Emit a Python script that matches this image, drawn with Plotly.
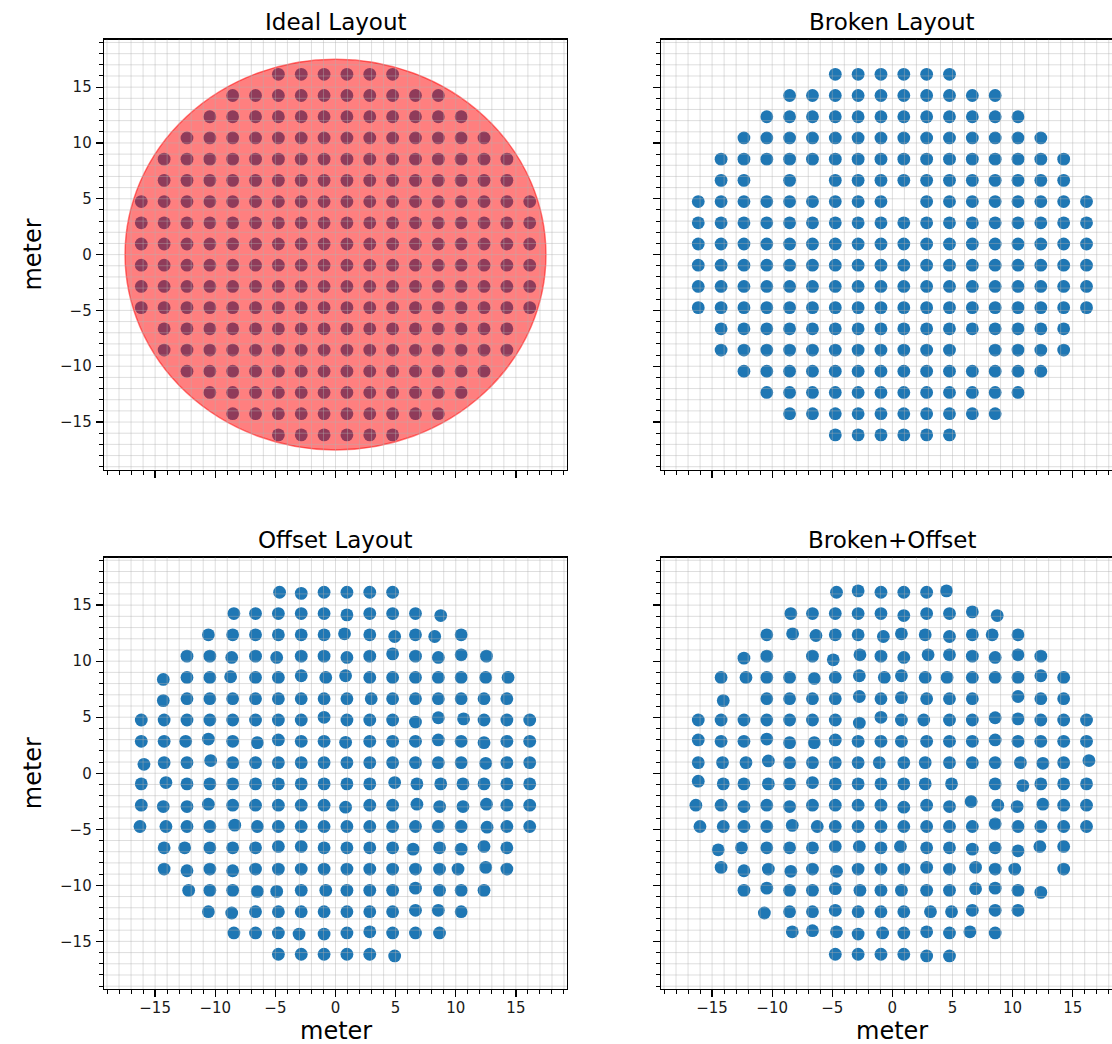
import plotly.graph_objects as go

# ---------------- data ----------------
GRID_X = [-16.15, -14.25, -12.35, -10.45, -8.55, -6.65, -4.75, -2.85, -0.95,
          0.95, 2.85, 4.75, 6.65, 8.55, 10.45, 12.35, 14.25, 16.15]
GRID_Y = [16.15, 14.25, 12.35, 10.45, 8.55, 6.65, 4.75, 2.85, 0.95,
          -0.95, -2.85, -4.75, -6.65, -8.55, -10.45, -12.35, -14.25, -16.15]
# number of antennas in each row (centred on the grid)
ROW_COUNTS = [6, 10, 12, 14, 16, 16, 18, 18, 18, 18, 18, 18, 16, 16, 14, 12, 10, 6]

CIRCLE_RADIUS = 17.5

# (row, col) of antennas missing in the broken layouts
BROKEN_MISSING = [(5, 3), (5, 5), (6, 9), (13, 12)]
BROKEN_OFFSET_MISSING = [(3, 4), (5, 2), (5, 13), (9, 12), (13, 15)]

# (row, col, dx, dy) position errors
OFFSET_JITTER = [
    (0, 6, 0.10, 0.0), (0, 7, 0.0, -0.10),
    (1, 4, 0.10, 0.0), (1, 9, 0.0, -0.12), (1, 13, 0.20, -0.18),
    (2, 3, -0.12, 0.0), (2, 9, -0.20, 0.09), (2, 11, 0.17, -0.15), (2, 13, -0.30, -0.15),
    (3, 4, -0.08, -0.12), (3, 6, -0.14, -0.12), (3, 9, 0.0, -0.12), (3, 11, 0.0, 0.20),
    (3, 13, 0.0, -0.12), (3, 14, 0.0, 0.12), (3, 15, 0.20, 0.0),
    (4, 1, -0.07, -0.18), (4, 4, -0.17, 0.06), (4, 7, 0.0, 0.15), (4, 8, 0.14, 0.0),
    (4, 9, -0.11, 0.15), (4, 15, 0.14, 0.0), (4, 16, 0.10, 0.0),
    (5, 1, -0.07, -0.17), (5, 10, 0.12, 0.0),
    (6, 8, 0.0, 0.24), (6, 12, 0.0, -0.18), (6, 13, 0.0, 0.20), (6, 14, 0.20, 0.10),
    (7, 2, -0.11, 0.0), (7, 3, -0.12, 0.20), (7, 5, 0.15, -0.12), (7, 6, 0.0, 0.12),
    (7, 9, -0.11, -0.09), (7, 13, 0.0, 0.12), (7, 15, 0.0, -0.12),
    (8, 0, 0.22, -0.15), (8, 3, 0.07, 0.18), (8, 15, 0.14, -0.06),
    (9, 1, 0.15, 0.12), (9, 11, 0.17, 0.12), (9, 12, 0.12, 0.0), (9, 13, 0.20, 0.0), (9, 14, 0.15, 0.0),
    (10, 1, -0.07, -0.12), (10, 2, 0.0, -0.12), (10, 3, -0.12, 0.09), (10, 9, -0.11, -0.18),
    (10, 12, 0.12, 0.09), (10, 13, 0.11, -0.12), (10, 14, 0.15, -0.12), (10, 15, 0.20, 0.09),
    (11, 0, -0.11, 0.0), (11, 1, 0.15, 0.0), (11, 4, 0.17, 0.12), (11, 5, 0.15, 0.0), (11, 15, 0.25, -0.06),
    (12, 2, -0.19, 0.0), (12, 6, 0.0, 0.12), (12, 7, 0.0, 0.12), (12, 12, -0.20, -0.12),
    (12, 13, 0.10, 0.0), (12, 14, 0.0, -0.12), (12, 15, 0.0, 0.12),
    (13, 2, 0.0, -0.15), (13, 4, 0.0, -0.15), (13, 13, 0.10, 0.0), (13, 14, -0.26, 0.0), (13, 15, 0.14, 0.15),
    (14, 2, 0.14, 0.0), (14, 5, 0.15, -0.09), (14, 6, -0.14, -0.09), (14, 8, 0.14, 0.0),
    (14, 12, 0.0, 0.20), (14, 13, 0.10, 0.0),
    (15, 3, -0.12, 0.0), (15, 4, -0.08, -0.12), (15, 12, 0.0, 0.12), (15, 13, 0.0, 0.12),
    (16, 4, 0.10, 0.0), (16, 7, -0.18, -0.10), (16, 8, 0.0, -0.10), (16, 10, 0.0, 0.10), (16, 13, 0.10, 0.0),
    (17, 11, 0.17, -0.15),
]

BROKEN_OFFSET_JITTER = [
    (0, 6, 0.10, 0.0), (0, 7, 0.0, 0.12), (0, 11, -0.25, 0.12),
    (1, 4, 0.10, 0.0), (1, 9, 0.0, -0.18), (1, 12, 0.0, 0.15), (1, 13, 0.17, -0.18),
    (2, 4, 0.25, 0.09), (2, 5, 0.29, -0.06), (2, 8, 0.20, -0.15), (2, 9, -0.20, 0.09),
    (2, 10, -0.12, 0.0), (2, 11, 0.0, -0.15), (2, 13, -0.25, 0.0),
    (3, 2, 0.0, -0.18), (3, 6, -0.17, -0.33), (3, 7, 0.15, 0.12), (3, 9, 0.0, -0.12),
    (3, 10, 0.12, 0.12), (3, 11, 0.0, 0.12), (3, 13, 0.0, -0.12), (3, 14, 0.0, 0.12),
    (4, 2, 0.17, 0.0), (4, 5, 0.15, -0.09), (4, 7, 0.10, 0.15), (4, 8, 0.28, 0.0),
    (4, 9, -0.20, 0.15), (4, 10, -0.12, 0.0), (4, 11, -0.20, 0.0), (4, 15, 0.0, 0.15),
    (5, 1, 0.18, -0.17), (5, 7, 0.10, 0.20), (5, 9, -0.20, 0.10), (5, 14, 0.0, 0.20),
    (6, 7, 0.10, -0.27), (6, 8, 0.0, 0.24), (6, 9, -0.20, 0.0), (6, 10, -0.24, 0.0),
    (6, 13, 0.0, 0.20), (6, 14, 0.0, 0.10),
    (7, 0, 0.0, 0.12), (7, 3, 0.0, 0.20), (7, 4, 0.0, -0.12), (7, 5, 0.15, -0.12),
    (7, 6, 0.0, 0.12), (7, 9, -0.20, 0.0), (7, 13, 0.0, 0.12),
    (8, 1, 0.12, 0.0), (8, 2, 0.17, 0.0), (8, 3, 0.13, 0.15), (8, 8, -0.14, 0.0),
    (8, 10, -0.12, 0.0), (8, 14, 0.20, 0.0), (8, 15, 0.17, -0.06), (8, 17, 0.20, 0.18),
    (9, 0, 0.0, 0.24), (9, 1, 0.18, 0.0), (9, 3, 0.13, 0.0), (9, 5, 0.0, 0.12),
    (9, 10, -0.12, 0.0), (9, 11, 0.17, 0.0), (9, 14, 0.40, -0.15),
    (10, 0, -0.20, 0.0), (10, 2, 0.0, -0.12), (10, 4, 0.0, -0.12), (10, 9, 0.0, -0.18),
    (10, 11, 0.0, -0.12), (10, 12, -0.10, 0.33), (10, 13, 0.22, 0.0), (10, 14, -0.07, -0.12), (10, 15, 0.17, 0.09),
    (11, 0, 0.14, 0.0), (11, 1, 0.18, 0.0), (11, 4, 0.22, 0.10), (11, 5, 0.40, 0.0), (11, 13, 0.0, 0.24),
    (12, 1, -0.24, -0.18), (12, 2, -0.20, 0.0), (12, 6, 0.0, 0.12), (12, 7, 0.10, 0.12),
    (12, 9, -0.28, 0.12), (12, 12, 0.0, -0.12), (12, 14, 0.0, -0.27), (12, 15, -0.08, 0.12), (12, 16, 0.0, 0.12),
    (13, 1, 0.0, 0.15), (13, 2, 0.0, -0.15), (13, 3, 0.13, 0.0), (13, 4, 0.10, -0.20),
    (13, 6, 0.10, -0.20), (13, 10, 0.0, 0.15), (13, 12, 0.27, 0.15), (13, 14, -0.27, 0.0),
    (14, 3, 0.0, 0.20), (14, 6, 0.0, 0.15), (14, 7, 0.15, 0.0), (14, 9, -0.20, 0.0),
    (14, 12, 0.27, 0.15), (14, 13, 0.0, 0.20), (14, 15, 0.0, -0.18),
    (15, 3, -0.20, -0.12), (15, 6, 0.0, 0.12), (15, 10, 0.32, 0.0), (15, 11, 0.17, 0.0),
    (15, 12, 0.0, 0.12), (15, 13, 0.0, 0.12), (15, 14, 0.0, 0.12),
    (16, 4, 0.22, 0.10), (16, 5, 0.0, 0.20), (16, 6, 0.10, 0.10), (16, 7, 0.0, -0.10),
    (16, 8, 0.14, 0.0), (16, 10, 0.0, 0.10), (16, 12, -0.20, 0.10),
    (17, 10, 0.0, -0.15), (17, 11, 0.0, -0.15),
]

TITLES = ["Ideal Layout", "Broken Layout", "Offset Layout", "Broken+Offset"]
AXIS_LABEL = "meter"


# ---------------- build the layouts ----------------
def layout_points(missing=(), jitter=()):
    miss = set(missing)
    jit = {(r, c): (dx, dy) for r, c, dx, dy in jitter}
    xs, ys = [], []
    for r, (yv, n) in enumerate(zip(GRID_Y, ROW_COUNTS)):
        start = (len(GRID_X) - n) // 2
        for c in range(start, start + n):
            if (r, c) in miss:
                continue
            dx, dy = jit.get((r, c), (0.0, 0.0))
            xs.append(GRID_X[c] + dx)
            ys.append(yv + dy)
    return xs, ys


panels = [
    layout_points(),
    layout_points(missing=BROKEN_MISSING),
    layout_points(jitter=OFFSET_JITTER),
    layout_points(missing=BROKEN_OFFSET_MISSING, jitter=BROKEN_OFFSET_JITTER),
]

W, H = 1112, 1044
LIM = 19.25
RIGHT_LIM = 18.27
XD = [[104 / W, 567 / W], [661 / W, 1.0], [104 / W, 567 / W], [661 / W, 1.0]]
YD_TOP = [1 - 469.5 / H, 1 - 39.7 / H]
YD_BOT = [1 - 989 / H, 1 - 557.5 / H]
YD = [YD_TOP, YD_TOP, YD_BOT, YD_BOT]
XR = [[-LIM, LIM], [-LIM, RIGHT_LIM], [-LIM, LIM], [-LIM, RIGHT_LIM]]

FONT = "DejaVu Sans"
BLUE = "#1f77b4"

fig = go.Figure()
ids = ["", "2", "3", "4"]
for i, (xs, ys) in enumerate(panels):
    fig.add_trace(go.Scatter(
        x=xs, y=ys, mode="markers",
        marker=dict(size=12.8, color=BLUE, line=dict(width=0)),
        xaxis="x" + ids[i], yaxis="y" + ids[i],
        showlegend=False, hoverinfo="skip",
    ))


def axis(domain, rng, labels, anchor, mirror=True, standoff=0):
    return dict(
        domain=domain, range=rng, anchor=anchor,
        showline=True, linecolor="black", linewidth=1.3, mirror=mirror,
        ticks="outside", ticklen=7, tickwidth=1.3, tickcolor="black",
        tick0=0, dtick=5, showticklabels=labels, ticklabelstandoff=standoff,
        tickfont=dict(family=FONT, size=15, color="#1a1a1a"),
        showgrid=False, zeroline=False,
        minor=dict(tick0=0, dtick=1, ticks="outside", ticklen=4,
                   tickwidth=1, tickcolor="black", showgrid=False),
        layer="above traces", fixedrange=True,
    )


layout = dict(
    width=W, height=H,
    margin=dict(l=0, r=0, t=0, b=0),
    paper_bgcolor="white", plot_bgcolor="white",
    font=dict(family=FONT, color="black"),
)
for i in range(4):
    layout["xaxis" + ids[i]] = axis(XD[i], XR[i], i >= 2, "y" + ids[i], standoff=-2)
    layout["yaxis" + ids[i]] = axis(YD[i], [-LIM, LIM], i % 2 == 0, "x" + ids[i],
                                    mirror=(i % 2 == 0), standoff=1)

shapes = []
# red circle on the ideal layout (above the antennas)
shapes.append(dict(type="circle", xref="x", yref="y",
                   x0=-CIRCLE_RADIUS, x1=CIRCLE_RADIUS,
                   y0=-CIRCLE_RADIUS, y1=CIRCLE_RADIUS,
                   fillcolor="rgba(255,0,0,0.5)",
                   line=dict(color="rgba(255,0,0,0.5)", width=1.5),
                   layer="above"))
GRID_COLOR = "rgba(176,176,176,0.42)"
for i in range(4):
    xr, yr = "x" + ids[i], "y" + ids[i]
    xmax = int(XR[i][1])
    for v in range(-19, xmax + 1):
        shapes.append(dict(type="line", xref=xr, yref=yr + " domain",
                           x0=v, x1=v, y0=0, y1=1,
                           line=dict(color=GRID_COLOR, width=1), layer="above"))
    for v in range(-19, 20):
        shapes.append(dict(type="line", xref=xr + " domain", yref=yr,
                           x0=0, x1=1, y0=v, y1=v,
                           line=dict(color=GRID_COLOR, width=1), layer="above"))
layout["shapes"] = shapes

ann = []
for i in range(4):
    ann.append(dict(text=TITLES[i], xref="x" + ids[i], yref="y" + ids[i] + " domain",
                    x=0, y=1, xanchor="center", yanchor="bottom", yshift=3,
                    showarrow=False, font=dict(family=FONT, size=23, color="black")))
for yd in (YD_TOP, YD_BOT):
    ann.append(dict(text=AXIS_LABEL, xref="paper", yref="paper",
                    x=33 / W, y=(yd[0] + yd[1]) / 2, xanchor="center", yanchor="middle",
                    textangle=-90, showarrow=False,
                    font=dict(family=FONT, size=24, color="black")))
for xid in ("x3", "x4"):
    ann.append(dict(text=AXIS_LABEL, xref=xid, yref="paper",
                    x=0, y=0, xanchor="center", yanchor="bottom", yshift=-3,
                    showarrow=False, font=dict(family=FONT, size=24, color="black")))
layout["annotations"] = ann

fig.update_layout(**layout)
fig.write_html(
    "out.html",
    config={"displayModeBar": False, "staticPlot": True},
    post_script="document.body.style.margin='0px';document.body.style.overflow='hidden';",
)
